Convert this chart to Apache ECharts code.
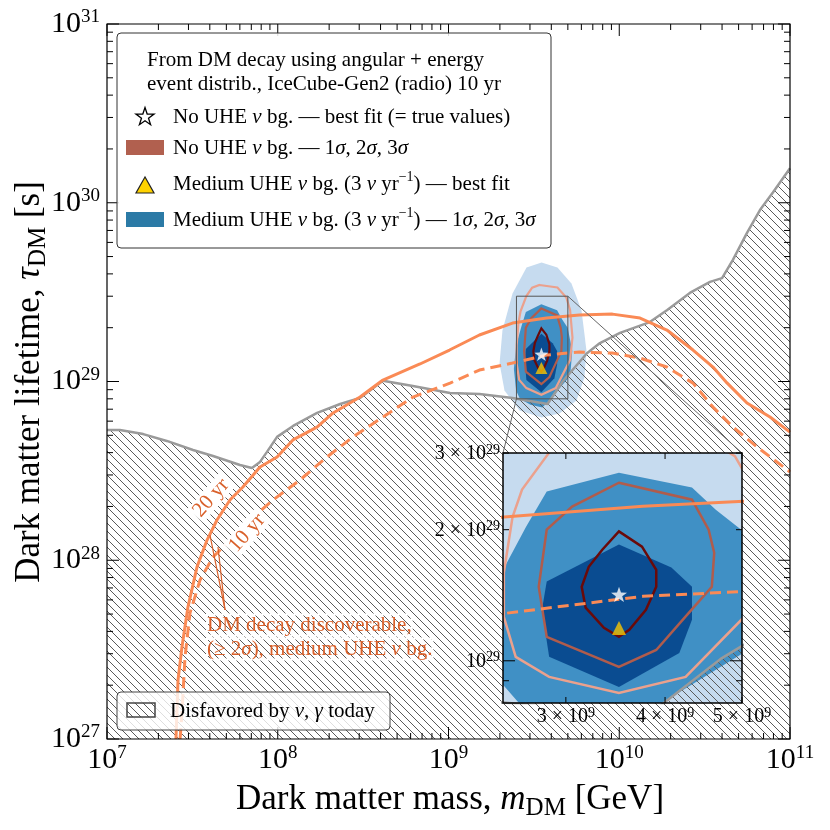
<!DOCTYPE html>
<html>
<head>
<meta charset="utf-8">
<script src="https://cdn.jsdelivr.net/npm/echarts@6/dist/echarts.min.js"></script>
<style>
  html, body { margin: 0; background: #fff; }
  #chart { width: 830px; height: 830px; }
</style>
</head>
<body>
<div id="chart"></div>
<script>
const FONT = 'Liberation Serif'

// upper edge of the region disfavored by nu, gamma today [m_DM GeV, tau_DM s]
const disfavored = [
  [1.0e7, 5.36e28], [1.19e7, 5.36e28], [1.63e7, 5.08e28], [2.24e7, 4.65e28], [3.19e7, 4.14e28],
  [4.18e7, 3.83e28], [6.01e7, 3.41e28], [7.06e7, 3.28e28], [7.87e7, 3.55e28], [8.65e7, 4.04e28],
  [9.91e7, 4.90e28], [1.23e8, 5.64e28], [1.70e8, 6.67e28], [2.32e8, 7.48e28], [3.03e8, 8.09e28],
  [4.13e8, 1.01e29], [6.19e8, 9.44e28], [1.02e9, 8.63e28], [1.52e9, 8.51e28], [2.37e9, 8.09e28],
  [3.80e9, 7.48e28], [4.70e9, 1.01e29], [6.47e9, 1.44e29], [7.71e9, 1.64e29], [1.01e10, 1.87e29],
  [1.51e10, 2.15e29], [1.91e10, 2.51e29], [2.59e10, 3.13e29], [3.40e10, 3.61e29], [4.00e10, 3.79e29],
  [4.63e10, 4.79e29], [5.60e10, 6.78e29], [6.67e10, 9.10e29], [7.94e10, 1.14e30], [1.0e11, 1.56e30]
]

// DM decay discoverable (>= 2 sigma), medium UHE nu background
const discover20yr = [
  [2.535e7, 1.0e27], [2.606e7, 2.14e27], [2.748e7, 3.27e27], [2.979e7, 5.47e27], [3.365e7, 9.16e27],
  [3.855e7, 1.297e28], [4.406e7, 1.679e28], [5.248e7, 2.173e28], [6.252e7, 2.57e28], [7.87e7, 3.327e28],
  [9.908e7, 3.784e28], [1.227e8, 4.71e28], [1.698e8, 5.559e28], [2.109e8, 6.668e28], [3.034e8, 8.185e28],
  [4.13e8, 1.019e29], [6.808e8, 1.253e29], [1.014e9, 1.5e29], [1.517e9, 1.82e29], [2.371e9, 2.123e29],
  [3.75e9, 2.265e29], [5.848e9, 2.355e29], [9.12e9, 2.382e29], [1.324e10, 2.265e29], [1.901e10, 1.941e29],
  [2.704e10, 1.5e29], [3.54e10, 1.205e29], [4.276e10, 9.817e28], [5.598e10, 7.586e28], [7.638e10, 6.324e28],
  [1.0e11, 5.212e28]
]
const discover10yr = [
  [2.679e7, 1.0e27], [2.748e7, 1.396e27], [2.864e7, 2.877e27], [3.062e7, 5.07e27], [3.508e7, 7.762e27],
  [4.178e7, 1.042e28], [5.248e7, 1.297e28], [6.871e7, 1.679e28], [9.376e7, 2.173e28], [1.349e8, 2.812e28],
  [1.941e8, 3.784e28], [2.761e8, 4.898e28], [4.13e8, 6.324e28], [6.194e8, 8.185e28], [1.021e9, 9.795e28],
  [1.517e9, 1.159e29], [2.371e9, 1.268e29], [3.75e9, 1.406e29], [5.848e9, 1.462e29], [9.12e9, 1.442e29],
  [1.324e10, 1.352e29], [1.901e10, 1.205e29], [2.704e10, 9.795e28], [3.54e10, 7.194e28], [4.634e10, 5.559e28],
  [6.412e10, 4.305e28], [1.0e11, 3.119e28]
]

// medium UHE nu bg. (3 nu / yr): filled 1, 2, 3 sigma regions
const medium3sig = [
  [3.508e9, 4.634e29], [4.345e9, 4.345e29], [5.248e9, 3.532e29], [6.012e9, 2.495e29], [6.427e9, 1.489e29],
  [6.252e9, 1.052e29], [5.623e9, 7.834e28], [4.467e9, 6.622e28], [3.508e9, 6.295e28], [2.606e9, 6.887e28],
  [2.128e9, 8.913e28], [1.991e9, 1.262e29], [2.07e9, 1.928e29], [2.371e9, 3.105e29], [2.864e9, 4.345e29]
]
const medium2sig = [
  [3.499e9, 2.704e29], [4.325e9, 2.5e29], [4.634e9, 2.223e29], [4.989e9, 2.0e29], [5.309e9, 1.479e29],
  [5.188e9, 1.148e29], [4.989e9, 1.035e29], [3.963e9, 8.0e28], [3.548e9, 7.161e28], [3.02e9, 7.413e28],
  [2.618e9, 8.0e28], [2.489e9, 8.892e28], [2.415e9, 1.175e29], [2.489e9, 1.592e29], [2.673e9, 2.032e29],
  [2.838e9, 2.449e29]
]
const medium1sig = [
  [3.499e9, 1.849e29], [4.074e9, 1.637e29], [4.325e9, 1.479e29], [4.325e9, 1.242e29], [4.169e9, 1.042e29],
  [3.499e9, 8.71e28], [2.858e9, 1.021e29], [2.799e9, 1.309e29], [2.838e9, 1.521e29]
]

// no UHE nu bg.: 1, 2, 3 sigma contours
const none1sig = [
  [3.499e9, 1.982e29], [3.741e9, 1.828e29], [3.899e9, 1.618e29], [3.899e9, 1.479e29], [3.784e9, 1.309e29],
  [3.606e9, 1.178e29], [3.499e9, 1.135e29], [3.35e9, 1.191e29], [3.177e9, 1.324e29], [3.141e9, 1.479e29],
  [3.206e9, 1.644e29], [3.334e9, 1.799e29]
]
const none2sig = [
  [3.499e9, 2.564e29], [4.325e9, 2.344e29], [4.539e9, 2.0e29], [4.613e9, 1.77e29], [4.581e9, 1.479e29],
  [4.285e9, 1.288e29], [3.899e9, 1.059e29], [3.499e9, 9.683e28], [2.838e9, 1.135e29], [2.773e9, 1.479e29],
  [2.838e9, 2.0e29], [3.055e9, 2.259e29]
]
const none3sig = [
  [3.412e9, 3.467e29], [4.345e9, 3.357e29], [4.898e9, 2.951e29], [5.152e9, 2.512e29], [5.321e9, 1.762e29],
  [5.152e9, 1.318e29], [4.246e9, 9.183e28], [3.499e9, 8.433e28], [2.858e9, 9.183e28], [2.594e9, 1.021e29],
  [2.506e9, 1.262e29], [2.506e9, 1.592e29], [2.57e9, 2.138e29], [2.642e9, 2.472e29], [2.858e9, 3.006e29],
  [3.09e9, 3.35e29]
]

const bestFitNone = [[3.5e9, 1.42e29]]
const bestFitMedium = [[3.5e9, 1.19e29]]

// axes
const mainX = [1e7, 1e11]
const mainY = [1e27, 1e31]
const insetX = [2.5e9, 5e9]
const insetY = [8e28, 3e29]
const mainXMajor = [1e7, 1e8, 1e9, 1e10, 1e11]
const mainYMajor = [1e27, 1e28, 1e29, 1e30, 1e31]
const insetXTicks = [3e9, 4e9, 5e9]
const insetXLabels = ['3', '4', '5']
const insetYTicks = [9e28, 2e29, 3e29]
const insetYMajor = [1e29]
const insetYLabels = [['1e29', ''], ['2e29', '2'], ['3e29', '3']]

function minors(majors) {
  const out = []
  for (let i = 0; i < majors.length - 1; i++) {
    for (let k = 2; k <= 9; k++) out.push(majors[i] * k)
  }
  return out
}

const GRID_MAIN = { left: 107, top: 24, width: 683, height: 715 }
const GRID_INSET = { left: 503, top: 453, width: 239, height: 250 }

const c = {
  orange: '#fa8a55',
  annot: '#d9602a',
  blue3: '#c6dbef',
  blue2: '#4090c5',
  blue1: '#0a4c91',
  red3: '#eba18d',
  red2: '#b05c4c',
  red1: '#6a0a0a',
  gray: '#9a9a9a',
  gold: '#f7c600'
}

function hatchPattern(step, color) {
  const cv = document.createElement('canvas')
  cv.width = cv.height = step
  const g = cv.getContext('2d')
  g.strokeStyle = color
  g.lineWidth = 1
  g.beginPath()
  for (const o of [-step, 0, step]) {
    g.moveTo(o, 0)
    g.lineTo(o + step, step)
  }
  g.stroke()
  return { image: cv, repeat: 'repeat' }
}
const hatch = hatchPattern(8, '#5a5a5a')

function polygon(pts, gi, style, z) {
  return {
    type: 'custom', xAxisIndex: gi, yAxisIndex: gi, clip: true, silent: true, z,
    data: [pts[0]],
    renderItem: (params, api) => ({
      type: 'polygon',
      shape: { points: pts.map((p) => api.coord(p)) },
      style: style
    })
  }
}

function line(pts, gi, style, z) {
  return {
    type: 'line', xAxisIndex: gi, yAxisIndex: gi, data: pts, clip: true, silent: true, z,
    symbol: 'none', smooth: false, lineStyle: style
  }
}

// ticks pointing inwards on all four sides
function ticks(gi, xt, yt, x0, y0, z) {
  const data = xt.map((t) => [t[0], y0, 0, t[1]]).concat(yt.map((t) => [x0, t[0], 1, t[1]]))
  return {
    type: 'custom', xAxisIndex: gi, yAxisIndex: gi, clip: false, silent: true, z,
    data,
    renderItem(params, api) {
      const cs = params.coordSys
      const p = api.coord([api.value(0), api.value(1)])
      const len = api.value(3)
      const st = { stroke: '#000', lineWidth: 1 }
      if (api.value(2) === 0) {
        const b = cs.y + cs.height
        return { type: 'group', children: [
          { type: 'line', shape: { x1: p[0], y1: b, x2: p[0], y2: b - len }, style: st },
          { type: 'line', shape: { x1: p[0], y1: cs.y, x2: p[0], y2: cs.y + len }, style: st }
        ] }
      }
      const r = cs.x + cs.width
      return { type: 'group', children: [
        { type: 'line', shape: { x1: cs.x, y1: p[1], x2: cs.x + len, y2: p[1] }, style: st },
        { type: 'line', shape: { x1: r, y1: p[1], x2: r - len, y2: p[1] }, style: st }
      ] }
    }
  }
}

const tickRich = {
  b: { fontSize: 30, fontFamily: FONT, color: '#000', lineHeight: 32 },
  e: { fontSize: 19, fontFamily: FONT, color: '#000', lineHeight: 20, verticalAlign: 'top' }
}
const powLabel = (v) => '{b|10}{e|' + Math.round(Math.log10(v)) + '}'

// inset tick labels, drawn through the inset's scales
function insetLabels(z) {
  const data = insetXTicks.map((v, i) => [v, insetY[0], 0, i]).concat(
    insetYLabels.map((d, i) => [insetX[0], Number(d[0]), 1, i]))
  const rich = {
    b: { fontSize: 20, fontFamily: FONT, color: '#000', lineHeight: 22 },
    e: { fontSize: 14, fontFamily: FONT, color: '#000', lineHeight: 14, verticalAlign: 'top' }
  }
  return {
    type: 'custom', xAxisIndex: 1, yAxisIndex: 1, clip: false, silent: true, z,
    data,
    renderItem(params, api) {
      const cs = params.coordSys
      const p = api.coord([api.value(0), api.value(1)])
      const i = api.value(3)
      if (api.value(2) === 0) {
        return { type: 'text', x: p[0], y: cs.y + cs.height + 3, style: {
          text: '{b|' + insetXLabels[i] + ' × 10}{e|9}', rich, align: 'center', verticalAlign: 'top' } }
      }
      const m = insetYLabels[i][1]
      return { type: 'text', x: cs.x - 3, y: p[1] + 1, style: {
        text: '{b|' + (m ? m + ' × ' : '') + '10}{e|29}', rich, align: 'right', verticalAlign: 'middle' } }
    }
  }
}

const starPath = 'path://M0,-10L2.35,-3.24L9.51,-3.09L3.8,1.24L5.88,8.09L0,4L-5.88,8.09L-3.8,1.24L-9.51,-3.09L-2.35,-3.24Z'

function markers(gi, size, z) {
  return [
    { type: 'scatter', xAxisIndex: gi, yAxisIndex: gi, data: bestFitMedium, symbol: 'triangle',
      symbolSize: size, itemStyle: { color: c.gold }, silent: true, z },
    { type: 'scatter', xAxisIndex: gi, yAxisIndex: gi, data: bestFitNone, symbol: starPath,
      symbolKeepAspect: true, symbolSize: size + 2, itemStyle: { color: '#fff' }, silent: true, z }
  ]
}

function layer(gi, z, lw) {
  return [
    polygon(medium3sig, gi, { fill: c.blue3 }, z),
    polygon(medium2sig, gi, { fill: c.blue2 }, z),
    polygon(medium1sig, gi, { fill: c.blue1 }, z),
    polygon(disfavored.concat([[mainX[1], mainY[0] / 10], [mainX[0], mainY[0] / 10]]), gi, { fill: hatch }, z + 1),
    line(disfavored, gi, { color: c.gray, width: 2.5 }, z + 1),
    polygon(none3sig, gi, { fill: 'none', stroke: c.red3, lineWidth: lw }, z + 2),
    polygon(none2sig, gi, { fill: 'none', stroke: c.red2, lineWidth: lw }, z + 2),
    polygon(none1sig, gi, { fill: 'none', stroke: c.red1, lineWidth: lw }, z + 2),
    line(discover20yr, gi, { color: c.orange, width: 3 }, z + 2),
    line(discover10yr, gi, { color: c.orange, width: 3, type: [11, 6] }, z + 2)
  ]
}

const zoomBox = {
  type: 'custom', xAxisIndex: 0, yAxisIndex: 0, clip: false, silent: true, z: 6,
  data: [[insetX[0], insetY[0]]],
  renderItem: (params, api) => {
    const a = api.coord([insetX[0], insetY[1]])
    const b = api.coord([insetX[1], insetY[0]])
    return { type: 'rect', shape: { x: a[0], y: a[1], width: b[0] - a[0], height: b[1] - a[1] },
      style: { fill: 'none', stroke: '#555', lineWidth: 1 } }
  }
}

const chart = echarts.init(document.getElementById('chart'))

chart.setOption({
  animation: false,
  backgroundColor: '#fff',
  grid: [
    { ...GRID_MAIN, containLabel: false },
    { ...GRID_INSET, containLabel: false }
  ],
  xAxis: [
    { type: 'log', gridIndex: 0, min: mainX[0], max: mainX[1],
      axisLine: { show: false }, axisTick: { show: false }, splitLine: { show: false },
      axisLabel: { formatter: powLabel, rich: tickRich, margin: 5 } },
    { type: 'log', gridIndex: 1, min: insetX[0], max: insetX[1], show: false }
  ],
  yAxis: [
    { type: 'log', gridIndex: 0, min: mainY[0], max: mainY[1],
      axisLine: { show: false }, axisTick: { show: false }, splitLine: { show: false },
      axisLabel: { formatter: powLabel, rich: tickRich, margin: 7 } },
    { type: 'log', gridIndex: 1, min: insetY[0], max: insetY[1], show: false }
  ],
  series: [
    ...layer(0, 2, 2.2),
    ...markers(0, 12, 6),
    zoomBox,
    ticks(0, mainXMajor.map((v) => [v, 12]).concat(minors(mainXMajor).map((v) => [v, 6])),
      mainYMajor.map((v) => [v, 12]).concat(minors(mainYMajor).map((v) => [v, 6])), mainX[0], mainY[0], 7),
    ...layer(1, 20, 2.5),
    ...markers(1, 14, 24),
    ticks(1, insetXTicks.map((v) => [v, 6]),
      insetYMajor.map((v) => [v, 12]).concat(insetYTicks.map((v) => [v, 6])), insetX[0], insetY[0], 25),
    insetLabels(25)
  ]
})

// annotations, legends, frames
const px = (d) => chart.convertToPixel({ gridIndex: 0 }, d)
const rTR = px([insetX[1], insetY[1]])
const rBL = px([insetX[0], insetY[0]])
const annotAt = px([4.91e7, 5.27e27])
const armSolid = px([4.01e7, 1.384e28])
const armDashed = px([4.467e7, 1.186e28])
const lbl20 = px([4.07e7, 2.23e28])
const lbl10 = px([6.61e7, 1.42e28])

const txt = (size, extra) => ({
  fontSize: size, fontFamily: FONT, fill: '#000',
  rich: {
    i: { fontSize: size, fontFamily: FONT, fontStyle: 'italic', fill: extra || '#000' },
    sup: { fontSize: Math.round(size * 0.68), fontFamily: FONT, verticalAlign: 'top', lineHeight: 14, fill: extra || '#000' },
    n: { fontSize: size, fontFamily: FONT, lineHeight: size + 6, fill: extra || '#000' },
    sub: { fontSize: Math.round(size * 0.7), fontFamily: FONT, verticalAlign: 'bottom', lineHeight: 18, fill: extra || '#000' }
  }
})

const I = GRID_INSET
const starPts = []
for (let k = 0; k < 10; k++) {
  const r = k % 2 ? 3.7 : 9.5
  const a = -Math.PI / 2 + k * Math.PI / 5
  starPts.push([145 + r * Math.cos(a), 117 + r * Math.sin(a)])
}

chart.setOption({
  graphic: [
    { type: 'rect', z: 100, silent: true, shape: { x: GRID_MAIN.left, y: GRID_MAIN.top, width: GRID_MAIN.width, height: GRID_MAIN.height },
      style: { fill: 'none', stroke: '#000', lineWidth: 1.2 } },
    { type: 'line', z: 5, silent: true, shape: { x1: rTR[0], y1: rTR[1], x2: I.left + I.width, y2: I.top }, style: { stroke: '#666', lineWidth: 1 } },
    { type: 'line', z: 5, silent: true, shape: { x1: rBL[0], y1: rBL[1], x2: I.left, y2: I.top }, style: { stroke: '#666', lineWidth: 1 } },
    { type: 'rect', z: 100, silent: true, shape: { x: I.left, y: I.top, width: I.width, height: I.height },
      style: { fill: 'none', stroke: '#000', lineWidth: 1.5 } },

    // discovery annotations
    { type: 'line', z: 60, silent: true, shape: { x1: annotAt[0], y1: annotAt[1], x2: armSolid[0], y2: armSolid[1] }, style: { stroke: c.annot, lineWidth: 1.2 } },
    { type: 'line', z: 60, silent: true, shape: { x1: annotAt[0], y1: annotAt[1], x2: armDashed[0], y2: armDashed[1] }, style: { stroke: c.annot, lineWidth: 1.2 } },
    { type: 'text', z: 60, silent: true, x: lbl20[0], y: lbl20[1], rotation: 0.85,
      style: { text: '20 yr', fontSize: 21, fontFamily: FONT, fill: c.annot, align: 'center', verticalAlign: 'middle', backgroundColor: '#fff', padding: [0, 2] } },
    { type: 'text', z: 60, silent: true, x: lbl10[0], y: lbl10[1], rotation: 0.85,
      style: { text: '10 yr', fontSize: 21, fontFamily: FONT, fill: c.annot, align: 'center', verticalAlign: 'middle', backgroundColor: '#fff', padding: [0, 2] } },
    { type: 'text', z: 60, silent: true, x: 207, y: 625,
      style: { ...txt(21, c.annot), fill: c.annot, text: 'DM decay discoverable,', verticalAlign: 'middle', textBorderColor: '#fff', textBorderWidth: 2 } },
    { type: 'text', z: 60, silent: true, x: 207, y: 649,
      style: { ...txt(21, c.annot), fill: c.annot, text: '(≥ 2{i|σ}), medium UHE {i|ν} bg.', verticalAlign: 'middle', textBorderColor: '#fff', textBorderWidth: 2 } },

    // top legend
    { type: 'rect', z: 90, silent: true, shape: { x: 117, y: 33, width: 434, height: 215, r: 4 },
      style: { fill: 'rgba(255,255,255,0.85)', stroke: '#333', lineWidth: 1 } },
    { type: 'text', z: 91, silent: true, x: 147, y: 60, style: { ...txt(21), text: 'From DM decay using angular + energy', verticalAlign: 'middle' } },
    { type: 'text', z: 91, silent: true, x: 147, y: 84, style: { ...txt(21), text: 'event distrib., IceCube-Gen2 (radio) 10 yr', verticalAlign: 'middle' } },
    { type: 'polygon', z: 91, silent: true, shape: { points: starPts }, style: { fill: '#fff', stroke: '#000', lineWidth: 1.3 } },
    { type: 'text', z: 91, silent: true, x: 173, y: 117, style: { ...txt(21), text: 'No UHE {i|ν} bg. — best fit (= true values)', verticalAlign: 'middle' } },
    { type: 'rect', z: 91, silent: true, shape: { x: 126, y: 140, width: 38, height: 15 }, style: { fill: '#b1604f' } },
    { type: 'text', z: 91, silent: true, x: 173, y: 148, style: { ...txt(21), text: 'No UHE {i|ν} bg. — 1{i|σ}, 2{i|σ}, 3{i|σ}', verticalAlign: 'middle' } },
    { type: 'polygon', z: 91, silent: true, shape: { points: [[145, 177], [136, 193], [154, 193]] }, style: { fill: '#ffd200', stroke: '#222', lineWidth: 1.2 } },
    { type: 'text', z: 91, silent: true, x: 173, y: 184, style: { ...txt(21), text: '{n|Medium UHE }{i|ν}{n| bg. (3 }{i|ν}{n| yr}{sup|−1}{n|) — best fit}', verticalAlign: 'middle' } },
    { type: 'rect', z: 91, silent: true, shape: { x: 126, y: 212, width: 38, height: 15 }, style: { fill: '#2b7aa6' } },
    { type: 'text', z: 91, silent: true, x: 173, y: 220, style: { ...txt(21), text: '{n|Medium UHE }{i|ν}{n| bg. (3 }{i|ν}{n| yr}{sup|−1}{n|) — 1}{i|σ}{n|, 2}{i|σ}{n|, 3}{i|σ}', verticalAlign: 'middle' } },

    // bottom legend
    { type: 'rect', z: 90, silent: true, shape: { x: 117, y: 692, width: 273, height: 38, r: 4 },
      style: { fill: 'rgba(255,255,255,0.8)', stroke: '#444', lineWidth: 1 } },
    { type: 'rect', z: 91, silent: true, shape: { x: 127, y: 703, width: 28, height: 14 },
      style: { fill: hatch, stroke: '#444', lineWidth: 1.5 } },
    { type: 'text', z: 91, silent: true, x: 170, y: 711, style: { ...txt(21), text: 'Disfavored by {i|ν}, {i|γ} today', verticalAlign: 'middle' } },

    // axis titles
    { type: 'text', z: 91, silent: true, x: 450, y: 800,
      style: { ...txt(35), text: '{n|Dark matter mass, }{i|m}{sub|DM}{n| [GeV]}', align: 'center', verticalAlign: 'middle' } },
    { type: 'text', z: 91, silent: true, x: 30, y: 382, rotation: Math.PI / 2,
      style: { ...txt(35), text: '{n|Dark matter lifetime, }{i|τ}{sub|DM}{n| [s]}', align: 'center', verticalAlign: 'middle' } }
  ]
})
</script>
</body>
</html>
